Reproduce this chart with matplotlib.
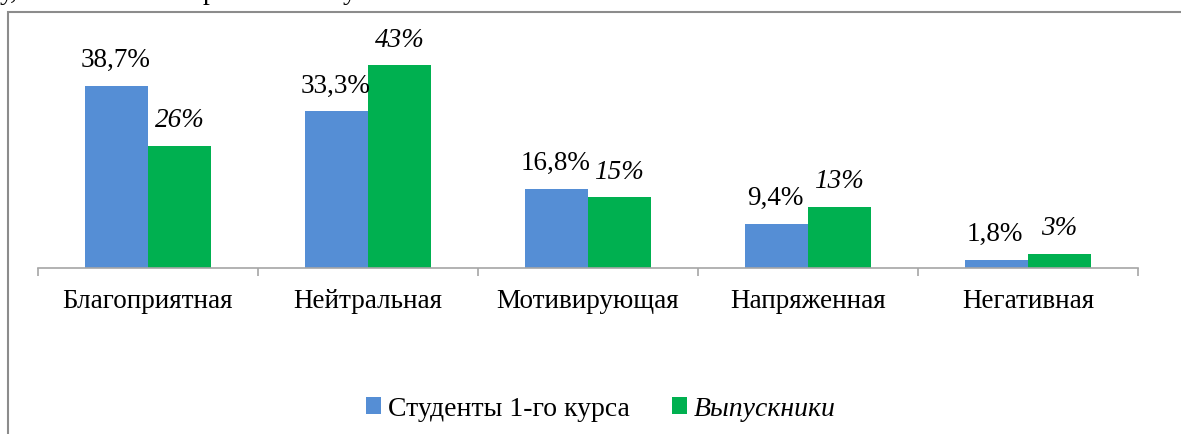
import matplotlib
matplotlib.use("Agg")
import matplotlib.pyplot as plt
from matplotlib.patches import Rectangle
import numpy as np

plt.rcParams["font.family"] = ["Liberation Serif", "DejaVu Serif"]

# данные
categories = ["Благоприятная", "Нейтральная", "Мотивирующая", "Напряженная", "Негативная"]
first_year = [38.7, 33.3, 16.8, 9.4, 1.8]
graduates = [26, 43, 15, 13, 3]
first_year_labels = ["38,7%", "33,3%", "16,8%", "9,4%", "1,8%"]
graduate_labels = ["26%", "43%", "15%", "13%", "3%"]
series_names = ["Студенты 1-го курса", "Выпускники"]

BLUE = "#558ED5"
GREEN = "#00B050"
W, H = 1181, 434
FS = 19.5

fig = plt.figure(figsize=(W / 100, H / 100), dpi=100)

# рамка вокруг диаграммы (правый и нижний края за пределами картинки)
fig.patches.append(Rectangle((8 / W, -0.1), 1.2, 1 - 12 / H + 0.1,
                             transform=fig.transFigure, fill=False,
                             edgecolor="#8c8c8c", linewidth=1.5))

# обрезанная строка текста документа над диаграммой
for x_px, txt in [(0, "у,"), (203, "р"), (343, "у")]:
    fig.text(x_px / W, 1 + 1 / H, txt, fontsize=20, va="baseline", ha="left")

ax = fig.add_axes([38 / W, 1 - 268 / H, 1100 / W, 235.5 / H])
x = np.arange(len(categories))
bw = 0.286
b1 = ax.bar(x - bw / 2, first_year, bw, color=BLUE, label=series_names[0])
b2 = ax.bar(x + bw / 2, graduates, bw, color=GREEN, label=series_names[1])

for rect, lab in zip(b1, first_year_labels):
    ax.annotate(lab, (rect.get_x() + rect.get_width() / 2, rect.get_height()),
                xytext=(-1, 9), textcoords="offset points",
                ha="center", va="bottom", fontsize=FS)
for rect, lab in zip(b2, graduate_labels):
    ax.annotate(lab, (rect.get_x() + rect.get_width() / 2, rect.get_height()),
                xytext=(0, 9), textcoords="offset points",
                ha="center", va="bottom", fontsize=FS, style="italic")

ax.set_xlim(-0.5, len(categories) - 0.5)
ax.set_ylim(0, 50)
for side in ["top", "right", "left"]:
    ax.spines[side].set_visible(False)
ax.spines["bottom"].set_color("#a6a6a6")
ax.spines["bottom"].set_linewidth(1.2)
ax.set_yticks([])
ax.set_xticks(np.arange(len(categories) + 1) - 0.5)
ax.set_xticklabels([])
ax.tick_params(axis="x", which="major", direction="out", length=6,
               color="#a6a6a6", width=1.2)
ax.set_xticks(x, minor=True)
ax.set_xticklabels(categories, minor=True, fontsize=FS)
ax.tick_params(axis="x", which="minor", length=0, pad=15)

leg = fig.legend(handles=[b1, b2], labels=series_names, loc="center",
                 bbox_to_anchor=(601 / W, 1 - 409 / H), ncol=2, frameon=False,
                 fontsize=20, handlelength=0.55, handleheight=0.55,
                 handletextpad=0.25, columnspacing=1.5)
leg.get_texts()[1].set_style("italic")

fig.savefig("out.png", dpi=100)
